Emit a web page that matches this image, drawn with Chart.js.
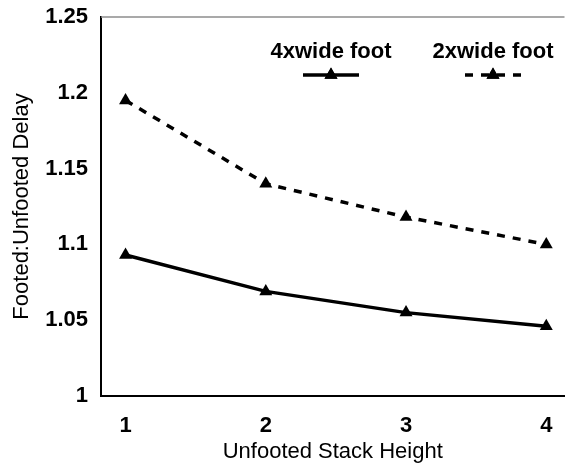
<!DOCTYPE html>
<html lang="en">
<head>
  <meta charset="UTF-8" />
  <title>Footed vs Unfooted Delay</title>
  <script src="https://cdn.jsdelivr.net/npm/chart.js"></script>
  <style>
    html, body { margin: 0; padding: 0; background: #fff; }
    #wrap { width: 572px; height: 473px; }
  </style>
</head>
<body>
  <div id="wrap"><canvas id="delayChart" width="572" height="473"></canvas></div>

  <script>
    const stackHeights = [1, 2, 3, 4];
    const wide4Delay = [1.093, 1.069, 1.055, 1.046];
    const wide2Delay = [1.195, 1.140, 1.118, 1.100];
    const yTicks = [1, 1.05, 1.1, 1.15, 1.2, 1.25];
    const yTickLabels = ['1', '1.05', '1.1', '1.15', '1.2', '1.25'];

    const FONT = "'Liberation Sans', Arial, sans-serif";

    // legend drawn inside the plot: label on top, line sample underneath
    const stackedLegend = {
      id: 'stackedLegend',
      afterDatasetsDraw(chart) {
        const ctx = chart.ctx;
        const centers = [331, 493];
        chart.data.datasets.forEach((ds, i) => {
          const cx = centers[i];
          ctx.save();
          ctx.fillStyle = '#000';
          ctx.font = 'bold 22px ' + FONT;
          ctx.textAlign = 'center';
          ctx.textBaseline = 'alphabetic';
          ctx.fillText(ds.label, cx, 58);

          ctx.strokeStyle = ds.borderColor;
          ctx.lineWidth = ds.borderWidth;
          ctx.setLineDash(ds.borderDash || []);
          ctx.beginPath();
          ctx.moveTo(cx - 28, 75);
          ctx.lineTo(cx + 28, 75);
          ctx.stroke();
          ctx.setLineDash([]);
          Chart.helpers.drawPoint(ctx, {
            pointStyle: 'triangle', radius: ds.pointRadius, borderWidth: 0, rotation: 0
          }, cx, 75);
          ctx.fillStyle = '#000';
          ctx.fill();
          ctx.restore();
        });
      }
    };

    // thin grey line on the top edge of the plot
    const topEdge = {
      id: 'topEdge',
      beforeDatasetsDraw(chart) {
        const { ctx, chartArea } = chart;
        ctx.save();
        ctx.strokeStyle = '#8c8c8c';
        ctx.lineWidth = 1.5;
        ctx.beginPath();
        ctx.moveTo(chartArea.left, chartArea.top);
        ctx.lineTo(chartArea.right, chartArea.top);
        ctx.stroke();
        ctx.restore();
      }
    };

    const ctx = document.getElementById('delayChart').getContext('2d');
    new Chart(ctx, {
      type: 'line',
      data: {
        datasets: [
          {
            label: '4xwide foot',
            data: stackHeights.map((x, i) => ({ x: x, y: wide4Delay[i] })),
            borderColor: '#000',
            backgroundColor: '#000',
            borderWidth: 3.5,
            pointStyle: 'triangle',
            pointRadius: 7.5,
            pointBorderWidth: 0,
            tension: 0
          },
          {
            label: '2xwide foot',
            data: stackHeights.map((x, i) => ({ x: x, y: wide2Delay[i] })),
            borderColor: '#000',
            backgroundColor: '#000',
            borderWidth: 3.5,
            borderDash: [8, 8],
            pointStyle: 'triangle',
            pointRadius: 7.5,
            pointBorderWidth: 0,
            tension: 0
          }
        ]
      },
      options: {
        responsive: false,
        animation: false,
        layout: { padding: { top: 17, right: 0, left: 0, bottom: 0 } },
        plugins: {
          legend: { display: false },
          tooltip: { enabled: false }
        },
        scales: {
          x: {
            type: 'linear',
            min: 0.825,
            max: 4.13,
            afterBuildTicks: s => { s.ticks = stackHeights.map(v => ({ value: v })); },
            afterFit: s => { s.height = 77; },
            grid: { display: false, drawTicks: false },
            border: { display: true, color: '#000', width: 2 },
            ticks: {
              padding: 17,
              color: '#000',
              font: { family: FONT, size: 22, weight: 'bold' }
            },
            title: {
              display: true,
              text: 'Unfooted Stack Height',
              color: '#000',
              padding: { top: 0, bottom: 8 },
              font: { family: FONT, size: 22 }
            }
          },
          y: {
            min: 1,
            max: 1.25,
            afterBuildTicks: s => { s.ticks = yTicks.map(v => ({ value: v })); },
            afterFit: s => { s.width = 101; s.paddingTop = 0; s.paddingBottom = 0; },
            grid: { display: false, drawTicks: false },
            border: { display: true, color: '#000', width: 2 },
            ticks: {
              padding: 13,
              color: '#000',
              font: { family: FONT, size: 22, weight: 'bold' },
              callback: (v, i) => yTickLabels[i]
            },
            title: {
              display: true,
              text: 'Footed:Unfooted Delay',
              color: '#000',
              padding: { top: 9, bottom: 0 },
              font: { family: FONT, size: 22 }
            }
          }
        }
      },
      plugins: [topEdge, stackedLegend]
    });
  </script>
</body>
</html>
